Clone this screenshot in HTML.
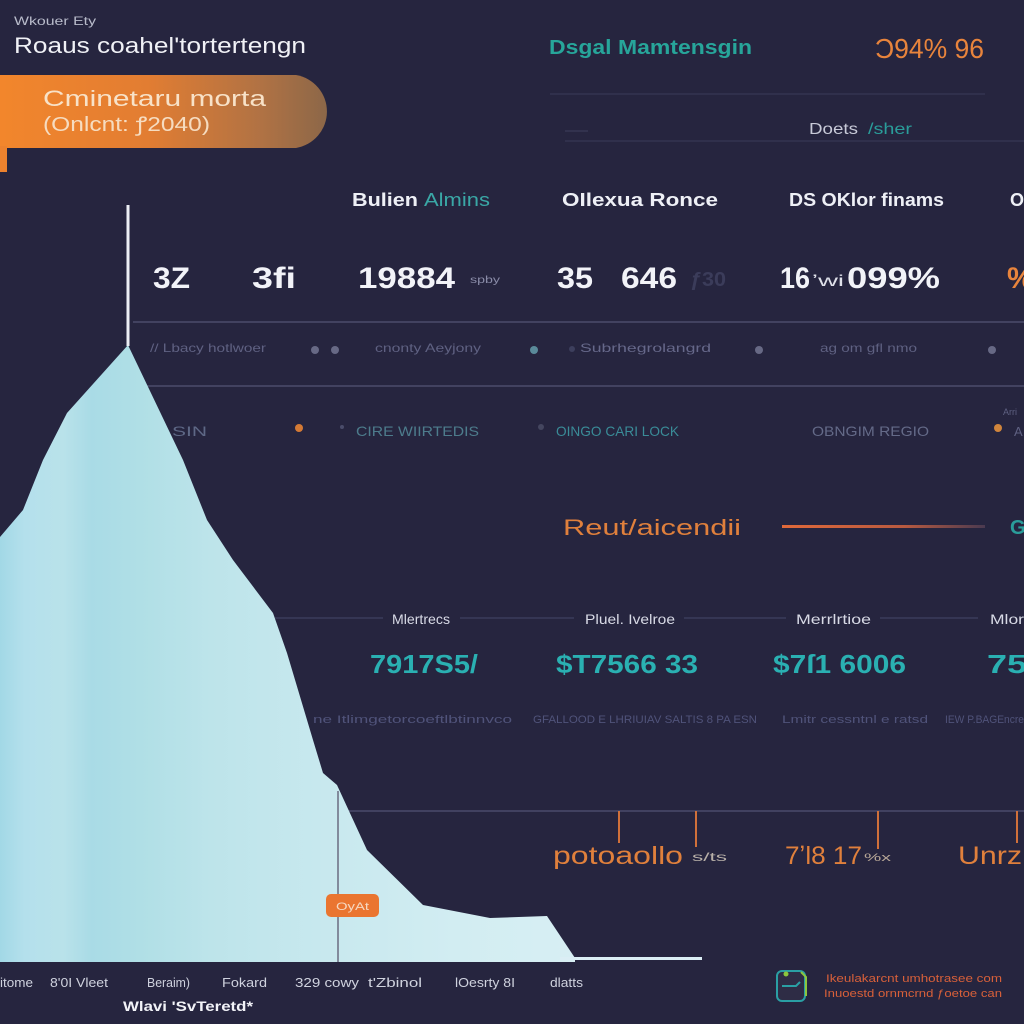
<!DOCTYPE html>
<html>
<head>
<meta charset="utf-8">
<style>
  html,body{margin:0;padding:0;background:#26253f;}
  svg{display:block;}
  text{font-family:"Liberation Sans","DejaVu Sans",sans-serif;}
</style>
</head>
<body>
<svg width="1024" height="1024" viewBox="0 0 1024 1024" xmlns="http://www.w3.org/2000/svg">
  <defs>
    <linearGradient id="banner" x1="0" y1="0" x2="1" y2="0">
      <stop offset="0" stop-color="#f2862c"/>
      <stop offset="0.45" stop-color="#e27d32"/>
      <stop offset="0.8" stop-color="#b07244"/>
      <stop offset="1" stop-color="#8c6748"/>
    </linearGradient>
    <linearGradient id="area" x1="0" y1="0" x2="702" y2="0" gradientUnits="userSpaceOnUse">
      <stop offset="0" stop-color="#a2d8e6"/>
      <stop offset="0.035" stop-color="#b4e0ec"/>
      <stop offset="0.09" stop-color="#b9e2ea"/>
      <stop offset="0.13" stop-color="#a9dbe6"/>
      <stop offset="0.2" stop-color="#b0dfe6"/>
      <stop offset="0.3" stop-color="#bde4ea"/>
      <stop offset="0.45" stop-color="#c7e8ee"/>
      <stop offset="0.65" stop-color="#d2edf2"/>
      <stop offset="1" stop-color="#ddf0f5"/>
    </linearGradient>
    <linearGradient id="oline" x1="0" y1="0" x2="1" y2="0">
      <stop offset="0" stop-color="#e0693a"/>
      <stop offset="0.6" stop-color="#b85a40"/>
      <stop offset="1" stop-color="#4a3a50"/>
    </linearGradient>
  </defs>

  <rect width="1024" height="1024" fill="#26253f"/>

  <!-- Header -->
  <text x="14" y="25" font-size="12" fill="#b9bccb" textLength="82" lengthAdjust="spacingAndGlyphs">Wkouer Ety</text>
  <text x="14" y="53" font-size="22" fill="#f0f1f6" textLength="292" lengthAdjust="spacingAndGlyphs">Roaus coahel'tortertengn</text>

  <!-- Banner -->
  <path d="M0 75 H296 A37 37 0 0 1 296 148 H0 Z" fill="url(#banner)"/>
  <rect x="0" y="146" width="7" height="26" fill="#ec822e"/>
  <text x="43" y="106" font-size="22" fill="#f8e2c8" textLength="223" lengthAdjust="spacingAndGlyphs">Cminetaru morta</text>
  <text x="43" y="131" font-size="20" fill="#f6dcc0" textLength="167" lengthAdjust="spacingAndGlyphs">(Onlcnt: ꝭ2040)</text>

  <!-- Top right header -->
  <text x="549" y="54" font-size="20" font-weight="bold" fill="#27a59a" textLength="203" lengthAdjust="spacingAndGlyphs">Dsgal Mamtensgin</text>
  <text x="875" y="58" font-size="28" fill="#e8843c" textLength="109" lengthAdjust="spacingAndGlyphs">Ɔ94% 96</text>
  <line x1="550" y1="94" x2="985" y2="94" stroke="#393a58" stroke-width="1"/>
  <line x1="565" y1="131" x2="588" y2="131" stroke="#3d3e5c" stroke-width="1"/>
  <line x1="565" y1="141" x2="1024" y2="141" stroke="#393a58" stroke-width="1"/>
  <text x="809" y="134" font-size="16" fill="#c8cad8" textLength="49" lengthAdjust="spacingAndGlyphs">Doets</text>
  <text x="868" y="134" font-size="16" fill="#2a9d9a" textLength="44" lengthAdjust="spacingAndGlyphs">/sher</text>

  <!-- Column headings -->
  <text x="352" y="206" font-size="18" font-weight="bold" fill="#eef0f6" textLength="66" lengthAdjust="spacingAndGlyphs">Bulien</text>
  <text x="424" y="206" font-size="18" fill="#3aa7a6" textLength="66" lengthAdjust="spacingAndGlyphs">Almins</text>
  <text x="562" y="206" font-size="18" font-weight="bold" fill="#eef0f6" textLength="156" lengthAdjust="spacingAndGlyphs">OIlexua Ronce</text>
  <text x="789" y="206" font-size="18" font-weight="bold" fill="#eef0f6" textLength="155" lengthAdjust="spacingAndGlyphs">DS OKlor finams</text>
  <text x="1010" y="206" font-size="18" font-weight="bold" fill="#eef0f6">O</text>

  <!-- Big numbers -->
  <text x="153" y="288" font-size="30" font-weight="bold" fill="#f2f3f8" textLength="37" lengthAdjust="spacingAndGlyphs">3Z</text>
  <text x="252" y="288" font-size="30" font-weight="bold" fill="#f2f3f8" textLength="44" lengthAdjust="spacingAndGlyphs">3fi</text>
  <text x="358" y="288" font-size="30" font-weight="bold" fill="#f2f3f8" textLength="97" lengthAdjust="spacingAndGlyphs">19884</text>
  <text x="470" y="283" font-size="10" fill="#8a8ca8" textLength="30" lengthAdjust="spacingAndGlyphs">spby</text>
  <text x="557" y="288" font-size="30" font-weight="bold" fill="#f2f3f8" textLength="36" lengthAdjust="spacingAndGlyphs">35</text>
  <text x="621" y="288" font-size="30" font-weight="bold" fill="#f2f3f8" textLength="56" lengthAdjust="spacingAndGlyphs">646</text>
  <text x="690" y="286" font-size="20" font-weight="bold" fill="#3b3c5a" textLength="36" lengthAdjust="spacingAndGlyphs">ƒ30</text>
  <text x="780" y="288" font-size="30" font-weight="bold" fill="#f2f3f8" textLength="30" lengthAdjust="spacingAndGlyphs">16</text>
  <text x="812" y="286" font-size="16" fill="#dfe1ea" textLength="32" lengthAdjust="spacingAndGlyphs">ʼwi</text>
  <text x="847" y="288" font-size="30" font-weight="bold" fill="#f2f3f8" textLength="93" lengthAdjust="spacingAndGlyphs">099%</text>
  <text x="1007" y="288" font-size="30" font-weight="bold" fill="#e8843c">%</text>

  <!-- Row dividers -->
  <line x1="133" y1="322" x2="1024" y2="322" stroke="#4b4c6c" stroke-width="1.5"/>
  <line x1="133" y1="386" x2="1024" y2="386" stroke="#4b4c6c" stroke-width="1.5"/>

  <!-- Row 1 small -->
  <text x="150" y="352" font-size="12" fill="#5f6182" textLength="116" lengthAdjust="spacingAndGlyphs">// Lbacy hotlwoer</text>
  <circle cx="315" cy="350" r="4" fill="#676985"/>
  <circle cx="335" cy="350" r="4" fill="#676985"/>
  <text x="375" y="352" font-size="12" fill="#5f6182" textLength="106" lengthAdjust="spacingAndGlyphs">cnonty Aeyjony</text>
  <circle cx="534" cy="350" r="4" fill="#5a8a9a"/>
  <circle cx="572" cy="349" r="3" fill="#3d3f5d"/>
  <text x="580" y="352" font-size="12" fill="#66688a" textLength="131" lengthAdjust="spacingAndGlyphs">Subrhegrolangrd</text>
  <circle cx="759" cy="350" r="4" fill="#676985"/>
  <text x="820" y="352" font-size="12" fill="#5f6182" textLength="97" lengthAdjust="spacingAndGlyphs">ag om gfl nmo</text>
  <circle cx="992" cy="350" r="4" fill="#676985"/>

  <!-- Row 2 small -->
  <text x="172" y="436" font-size="14" fill="#5e6886" textLength="35" lengthAdjust="spacingAndGlyphs">SIN</text>
  <circle cx="299" cy="428" r="4" fill="#d47a35"/>
  <circle cx="342" cy="427" r="2" fill="#4a4c6a"/>
  <text x="356" y="436" font-size="14" fill="#4d7c8c" textLength="123" lengthAdjust="spacingAndGlyphs">CIRE WIIRTEDIS</text>
  <circle cx="541" cy="427" r="3" fill="#44465f"/>
  <text x="556" y="436" font-size="14" fill="#3a8c98" textLength="123" lengthAdjust="spacingAndGlyphs">OINGO CARI LOCK</text>
  <text x="812" y="436" font-size="14" fill="#646a88" textLength="117" lengthAdjust="spacingAndGlyphs">OBNGIM REGIO</text>
  <text x="1003" y="415" font-size="9" fill="#5f6182">Arri</text>
  <circle cx="998" cy="428" r="4" fill="#d0853c"/>
  <text x="1014" y="436" font-size="13" fill="#5f6182">A</text>

  <!-- Revenue heading -->
  <text x="563" y="535" font-size="22" fill="#e0803c" textLength="178" lengthAdjust="spacingAndGlyphs">Reut/aicendii</text>
  <rect x="782" y="525" width="203" height="3" fill="url(#oline)"/>
  <text x="1010" y="534" font-size="20" font-weight="bold" fill="#2a9d9a">G</text>

  <!-- Metric labels line -->
  <line x1="275" y1="618" x2="383" y2="618" stroke="#44466a" stroke-width="1"/>
  <line x1="460" y1="618" x2="574" y2="618" stroke="#44466a" stroke-width="1"/>
  <line x1="684" y1="618" x2="786" y2="618" stroke="#44466a" stroke-width="1"/>
  <line x1="880" y1="618" x2="978" y2="618" stroke="#44466a" stroke-width="1"/>
  <text x="392" y="624" font-size="14" fill="#d8dae6" textLength="58" lengthAdjust="spacingAndGlyphs">Mlertrecs</text>
  <text x="585" y="624" font-size="14" fill="#d8dae6" textLength="90" lengthAdjust="spacingAndGlyphs">Pluel. Ivelroe</text>
  <text x="796" y="624" font-size="14" fill="#d8dae6" textLength="75" lengthAdjust="spacingAndGlyphs">Merrlrtioe</text>
  <text x="990" y="624" font-size="14" fill="#d8dae6" textLength="34" lengthAdjust="spacingAndGlyphs">Mlor</text>

  <!-- Teal values -->
  <text x="370" y="673" font-size="26" font-weight="bold" fill="#2ab0b2" textLength="108" lengthAdjust="spacingAndGlyphs">7917S5/</text>
  <text x="556" y="673" font-size="26" font-weight="bold" fill="#2ab0b2" textLength="142" lengthAdjust="spacingAndGlyphs">$T7566 33</text>
  <text x="773" y="673" font-size="26" font-weight="bold" fill="#2ab0b2" textLength="133" lengthAdjust="spacingAndGlyphs">$7ſ1 6006</text>
  <text x="987" y="673" font-size="26" font-weight="bold" fill="#2ab0b2" textLength="40" lengthAdjust="spacingAndGlyphs">75</text>

  <!-- Faint row -->
  <text x="313" y="723" font-size="11" fill="#50537a" textLength="199" lengthAdjust="spacingAndGlyphs">ne   Itlimgetorcoeftlbtinnvco</text>
  <text x="533" y="723" font-size="11" fill="#50537a" textLength="224" lengthAdjust="spacingAndGlyphs">GFALLOOD E LHRIUIAV SALTIS  8 PA ESN</text>
  <text x="782" y="723" font-size="11" fill="#50537a" textLength="146" lengthAdjust="spacingAndGlyphs">Lmitr cessntnl e ratsd</text>
  <text x="945" y="723" font-size="11" fill="#50537a" textLength="79" lengthAdjust="spacingAndGlyphs">IEW P.BAGEncre</text>

  <!-- Lower line with orange ticks -->
  <line x1="340" y1="811" x2="1024" y2="811" stroke="#4a4b6b" stroke-width="1.5"/>
  <line x1="619" y1="811" x2="619" y2="843" stroke="#d0703a" stroke-width="2"/>
  <line x1="696" y1="811" x2="696" y2="847" stroke="#d0703a" stroke-width="2"/>
  <line x1="878" y1="811" x2="878" y2="849" stroke="#d0703a" stroke-width="2"/>
  <line x1="1017" y1="811" x2="1017" y2="843" stroke="#d0703a" stroke-width="2"/>
  <text x="553" y="864" font-size="25" fill="#e0803c" textLength="130" lengthAdjust="spacingAndGlyphs">potoaollo</text>
  <text x="692" y="861" font-size="12" fill="#b8b0a8" textLength="35" lengthAdjust="spacingAndGlyphs">s/ts</text>
  <text x="785" y="864" font-size="25" fill="#e0803c" textLength="77" lengthAdjust="spacingAndGlyphs">7ʼl8 17</text>
  <text x="864" y="861" font-size="11" fill="#b8a898" textLength="27" lengthAdjust="spacingAndGlyphs">%x</text>
  <text x="958" y="864" font-size="25" fill="#e0803c" textLength="64" lengthAdjust="spacingAndGlyphs">Unrz</text>

  <!-- Area chart -->
  <polygon fill="url(#area)" points="0,537 23,510 43,460 67,413 128,345 183,460 207,520 233,560 273,613 287,653 313,740 323,773 337,785 367,850 423,905 490,918 547,916 575,958 575,962 0,962"/>
  <rect x="560" y="957" width="142" height="3" fill="#dbeef5"/>
  <line x1="128" y1="205" x2="128" y2="346" stroke="#eceef4" stroke-width="3"/>
  <line x1="338" y1="791" x2="338" y2="962" stroke="#6a6c80" stroke-width="1.5"/>
  <rect x="326" y="894" width="53" height="23" rx="5" fill="#ea7530"/>
  <text x="336" y="910" font-size="11" fill="#f6d8c0" textLength="33" lengthAdjust="spacingAndGlyphs">OyAt</text>

  <!-- Bottom axis labels -->
  <text x="0" y="987" font-size="13" fill="#cfd2de" textLength="33" lengthAdjust="spacingAndGlyphs">itome</text>
  <text x="50" y="987" font-size="13" fill="#cfd2de" textLength="58" lengthAdjust="spacingAndGlyphs">8'0I Vleet</text>
  <text x="147" y="987" font-size="13" fill="#cfd2de" textLength="43" lengthAdjust="spacingAndGlyphs">Beraim)</text>
  <text x="222" y="987" font-size="13" fill="#cfd2de" textLength="45" lengthAdjust="spacingAndGlyphs">Fokard</text>
  <text x="295" y="987" font-size="13" fill="#cfd2de" textLength="64" lengthAdjust="spacingAndGlyphs">329 cowy</text>
  <text x="368" y="987" font-size="13" fill="#cfd2de" textLength="54" lengthAdjust="spacingAndGlyphs">t'Zbinol</text>
  <text x="455" y="987" font-size="13" fill="#cfd2de" textLength="60" lengthAdjust="spacingAndGlyphs">lOesrty 8I</text>
  <text x="550" y="987" font-size="13" fill="#cfd2de" textLength="33" lengthAdjust="spacingAndGlyphs">dlatts</text>
  <text x="123" y="1011" font-size="14" font-weight="bold" fill="#f2f3f8" textLength="130" lengthAdjust="spacingAndGlyphs">Wlavi 'SvTeretd*</text>

  <!-- Bottom-right icon & text -->
  <rect x="777" y="971" width="28" height="30" rx="5" fill="#2e2c45" stroke="#2a9fa4" stroke-width="2"/>
  <path d="M801 972 L806 977 L806 996" stroke="#8cc63e" stroke-width="2" fill="none"/>
  <path d="M782 986 H796 L800 982" stroke="#2a9fa4" stroke-width="2" fill="none"/>
  <circle cx="786" cy="974" r="2.5" fill="#8cc63e"/>
  <text x="826" y="982" font-size="11" fill="#d8603a" textLength="176" lengthAdjust="spacingAndGlyphs">Ikeulakarcnt umhotrasee com</text>
  <text x="824" y="997" font-size="11" fill="#d8603a" textLength="178" lengthAdjust="spacingAndGlyphs">Inuoestd ornmcrnd ƒoetoe can</text>
</svg>
</body>
</html>
